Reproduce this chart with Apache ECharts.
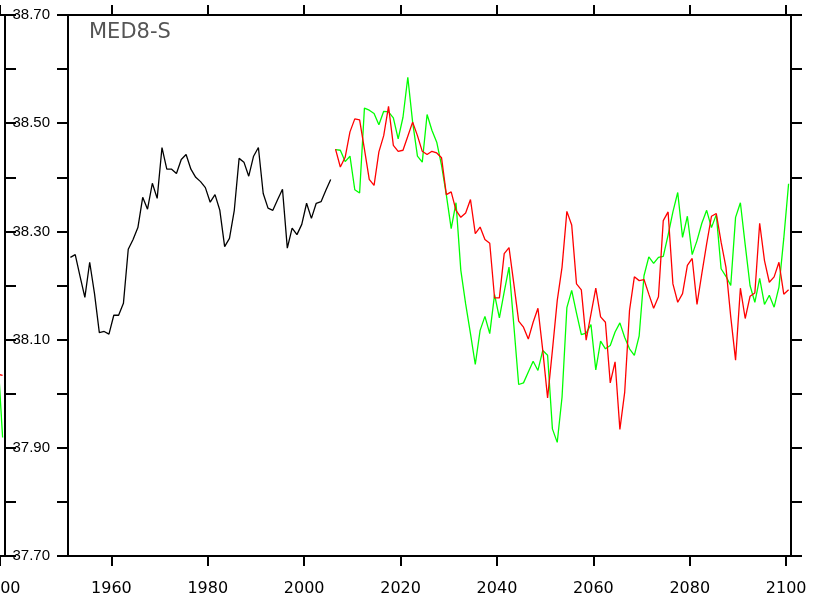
<!DOCTYPE html>
<html>
<head>
<meta charset="utf-8">
<script src="https://cdn.jsdelivr.net/npm/echarts@6/dist/echarts.min.js"></script>
<style>
html,body{margin:0;padding:0;background:#fff;}
#chart{width:817px;height:606px;}
</style>
</head>
<body>
<div id="chart"></div>
<script>
// ---- data ----
const titleText = 'MED8-S';
const histStartYear = 1951;
const histVals = [38.252,38.257,38.217,38.178,38.243,38.185,38.113,38.115,38.110,38.145,
  38.145,38.167,38.267,38.285,38.307,38.363,38.341,38.389,38.361,38.455,
  38.415,38.415,38.407,38.433,38.442,38.415,38.400,38.392,38.381,38.354,
  38.368,38.339,38.272,38.287,38.339,38.435,38.428,38.402,38.439,38.455,
  38.370,38.343,38.339,38.359,38.378,38.269,38.306,38.294,38.313,38.352,
  38.324,38.352,38.355,38.376,38.396];
const scenStartYear = 2006;
const redVals = [38.452,38.419,38.437,38.484,38.508,38.506,38.452,38.396,38.385,38.447,
  38.477,38.531,38.459,38.448,38.450,38.476,38.502,38.477,38.448,38.442,
  38.448,38.445,38.436,38.368,38.373,38.339,38.326,38.334,38.359,38.296,
  38.308,38.285,38.278,38.177,38.177,38.259,38.270,38.203,38.134,38.123,
  38.101,38.132,38.158,38.080,37.992,38.080,38.172,38.234,38.337,38.312,
  38.203,38.192,38.099,38.147,38.195,38.142,38.132,38.020,38.059,37.934,
  38.003,38.154,38.216,38.209,38.211,38.184,38.158,38.179,38.320,38.336,
  38.203,38.169,38.185,38.237,38.250,38.165,38.222,38.277,38.328,38.333,
  38.280,38.234,38.142,38.062,38.195,38.139,38.180,38.186,38.315,38.246,
  38.206,38.216,38.243,38.184,38.192];
const greenVals = [38.451,38.450,38.429,38.439,38.377,38.371,38.528,38.524,38.518,38.497,
  38.522,38.521,38.510,38.471,38.511,38.585,38.502,38.439,38.428,38.516,
  38.487,38.465,38.422,38.367,38.305,38.353,38.228,38.166,38.111,38.054,
  38.117,38.143,38.111,38.183,38.140,38.188,38.234,38.126,38.017,38.020,
  38.040,38.060,38.043,38.080,38.071,37.935,37.910,37.994,38.159,38.191,
  38.149,38.109,38.112,38.128,38.044,38.097,38.083,38.089,38.114,38.131,
  38.104,38.083,38.071,38.107,38.218,38.253,38.241,38.252,38.254,38.293,
  38.336,38.372,38.289,38.328,38.257,38.283,38.315,38.339,38.307,38.331,
  38.231,38.217,38.200,38.326,38.353,38.275,38.200,38.169,38.213,38.165,
  38.182,38.160,38.197,38.287,38.388];
// tail of neighbouring (cropped) panel on the left edge
const prevYears = [2099, 2100];
const prevRed = [38.036, 38.034];
const prevGreen = [38.070, 37.919];
const xTickYears = [1960,1980,2000,2020,2040,2060,2080,2100];
const yLabelTicks = [37.7,37.9,38.1,38.3,38.5,38.7];
const yAllTicks = [37.7,37.8,37.9,38.0,38.1,38.2,38.3,38.4,38.5,38.6,38.7];
const xMin = 1951, xMax = 2101, yMin = 37.7, yMax = 38.7;

// ---- build ----
function pairs(start, vals){ return vals.map((v,i)=>[start+i+0.5, v]); }
function pairsY(years, vals){ return vals.map((v,i)=>[years[i]+0.5, v]); }

const lineBlack = {color:'#000', width:2};
const tickStyle = {color:'#000', width:2};

function xAx(gridIndex, pos, showLabel, labelVals){
  return {type:'value', gridIndex, position:pos, min:xMin, max:xMax,
    axisLine:{show:true, onZero:false, lineStyle:lineBlack},
    axisTick:{show:true, inside:false, length:10, lineStyle:tickStyle, customValues:labelVals},
    axisLabel:{show:showLabel, customValues:labelVals, margin:25, fontSize:16,
      fontFamily:'DejaVu Sans', color:'#000', formatter:v=>String(Math.round(v))},
    splitLine:{show:false}};
}
function yAx(gridIndex, pos, showLabel){
  return {type:'value', gridIndex, position:pos, min:yMin, max:yMax,
    axisLine:{show:true, onZero:false, lineStyle:lineBlack},
    axisTick:{show:true, inside:false, length:11, lineStyle:tickStyle, customValues:yAllTicks},
    axisLabel:{show:showLabel, customValues:yLabelTicks, margin:18, fontSize:15,
      fontFamily:'Liberation Sans', color:'#000', formatter:v=>v.toFixed(2)},
    splitLine:{show:false}};
}

const chart = echarts.init(document.getElementById('chart'), null, {renderer:'canvas'});
chart.setOption({
  animation:false,
  backgroundColor:'#fff',
  title:{text:titleText, left:89, top:22, padding:0,
    textStyle:{fontSize:21, fontWeight:'normal', fontFamily:'DejaVu Sans', color:'#555'}},
  grid:[
    {left:68, right:26, top:15, bottom:50, show:false, containLabel:false, outerBoundsMode:'none'},
    {left:-718, width:723, top:15, height:541, show:false, containLabel:false, outerBoundsMode:'none'}
  ],
  xAxis:[
    xAx(0,'bottom',true,xTickYears),
    xAx(0,'top',false,xTickYears),
    xAx(1,'bottom',true,[2100]),
    xAx(1,'top',false,[2100])
  ],
  yAxis:[
    yAx(0,'left',true),
    yAx(0,'right',false),
    yAx(1,'right',false)
  ],
  series:[
    {type:'line', xAxisIndex:0, yAxisIndex:0, data:pairs(histStartYear,histVals), symbol:'none',
      lineStyle:{color:'#000', width:1.3}, z:3},
    {type:'line', xAxisIndex:0, yAxisIndex:0, data:pairs(scenStartYear,greenVals), symbol:'none',
      lineStyle:{color:'#00ff00', width:1.3}, z:3},
    {type:'line', xAxisIndex:0, yAxisIndex:0, data:pairs(scenStartYear,redVals), symbol:'none',
      lineStyle:{color:'#ff0000', width:1.3}, z:4},
    {type:'line', xAxisIndex:2, yAxisIndex:2, data:pairsY(prevYears,prevGreen), symbol:'none',
      lineStyle:{color:'#00ff00', width:1.3}, z:3},
    {type:'line', xAxisIndex:2, yAxisIndex:2, data:pairsY(prevYears,prevRed), symbol:'none',
      lineStyle:{color:'#ff0000', width:1.3}, z:4}
  ]
});
</script>
</body>
</html>
